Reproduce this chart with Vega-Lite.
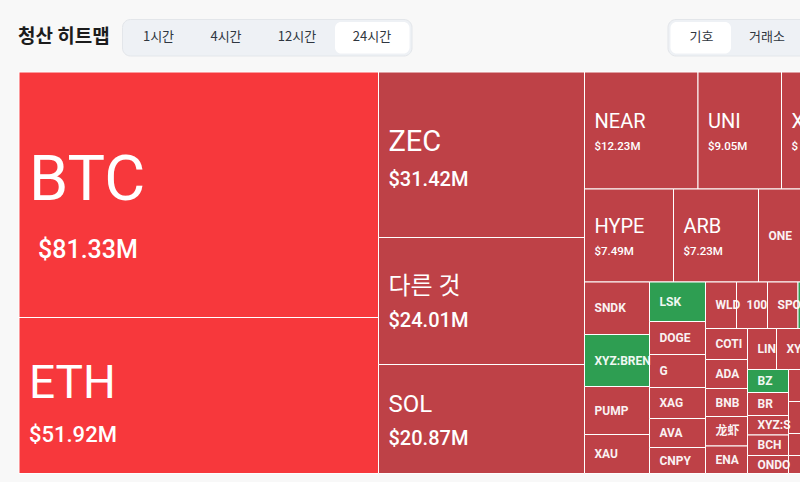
{
  "$schema": "https://vega.github.io/schema/vega-lite/v6.json",
  "width": 800,
  "height": 482,
  "autosize": "none",
  "padding": 0,
  "background": "#f8f8f8",
  "config": {"view": {"stroke": null}},
  "datasets": {
    "cells": [
      {"name": "BTC", "amount": 81.33, "liq": "$81.33M", "side": "major", "x0": 19, "x1": 378.5, "y0": 72, "y1": 317.5},
      {"name": "ETH", "amount": 51.92, "liq": "$51.92M", "side": "major", "x0": 19, "x1": 378.5, "y0": 317.5, "y1": 473.5},
      {"name": "ZEC", "amount": 31.42, "liq": "$31.42M", "side": "long", "x0": 378.5, "x1": 584.5, "y0": 72, "y1": 237.5},
      {"name": "다른 것", "amount": 24.01, "liq": "$24.01M", "side": "long", "x0": 378.5, "x1": 584.5, "y0": 237.5, "y1": 364.5},
      {"name": "SOL", "amount": 20.87, "liq": "$20.87M", "side": "long", "x0": 378.5, "x1": 584.5, "y0": 364.5, "y1": 473.5},
      {"name": "NEAR", "amount": 12.23, "liq": "$12.23M", "side": "long", "x0": 584.5, "x1": 698, "y0": 72, "y1": 189},
      {"name": "UNI", "amount": 9.05, "liq": "$9.05M", "side": "long", "x0": 698, "x1": 781.5, "y0": 72, "y1": 189},
      {"name": "X", "amount": 8.5, "liq": "$", "side": "long", "x0": 781.5, "x1": 860, "y0": 72, "y1": 189},
      {"name": "HYPE", "amount": 7.49, "liq": "$7.49M", "side": "long", "x0": 584.5, "x1": 673.5, "y0": 189, "y1": 282},
      {"name": "ARB", "amount": 7.23, "liq": "$7.23M", "side": "long", "x0": 673.5, "x1": 758.5, "y0": 189, "y1": 282},
      {"name": "ONE", "amount": 5.2, "liq": "", "side": "long", "x0": 758.5, "x1": 820, "y0": 189, "y1": 282},
      {"name": "SNDK", "amount": 3.14, "liq": "", "side": "long", "x0": 584.5, "x1": 649.5, "y0": 282, "y1": 334.5},
      {"name": "XYZ:BREN", "amount": 3.12, "liq": "", "side": "short", "x0": 584.5, "x1": 649.5, "y0": 334.5, "y1": 386.5},
      {"name": "PUMP", "amount": 2.88, "liq": "", "side": "long", "x0": 584.5, "x1": 649.5, "y0": 386.5, "y1": 434.5},
      {"name": "XAU", "amount": 2.34, "liq": "", "side": "long", "x0": 584.5, "x1": 649.5, "y0": 434.5, "y1": 473.5},
      {"name": "LSK", "amount": 2.04, "liq": "", "side": "short", "x0": 649.5, "x1": 705.5, "y0": 282, "y1": 321.5},
      {"name": "DOGE", "amount": 1.7, "liq": "", "side": "long", "x0": 649.5, "x1": 705.5, "y0": 321.5, "y1": 354.5},
      {"name": "G", "amount": 1.7, "liq": "", "side": "long", "x0": 649.5, "x1": 705.5, "y0": 354.5, "y1": 387.5},
      {"name": "XAG", "amount": 1.6, "liq": "", "side": "long", "x0": 649.5, "x1": 705.5, "y0": 387.5, "y1": 418.5},
      {"name": "AVA", "amount": 1.5, "liq": "", "side": "long", "x0": 649.5, "x1": 705.5, "y0": 418.5, "y1": 447.5},
      {"name": "CNPY", "amount": 1.34, "liq": "", "side": "long", "x0": 649.5, "x1": 705.5, "y0": 447.5, "y1": 473.5},
      {"name": "WLD", "amount": 1.33, "liq": "", "side": "long", "x0": 705.5, "x1": 736.5, "y0": 282, "y1": 328.5},
      {"name": "100", "amount": 1.33, "liq": "", "side": "long", "x0": 736.5, "x1": 767.5, "y0": 282, "y1": 328.5},
      {"name": "SPO", "amount": 1.31, "liq": "", "side": "long", "x0": 767.5, "x1": 798, "y0": 282, "y1": 328.5},
      {"name": "", "amount": 1.2, "liq": "", "side": "short", "x0": 798, "x1": 830, "y0": 282, "y1": 328.5},
      {"name": "COTI", "amount": 1.2, "liq": "", "side": "long", "x0": 705.5, "x1": 747.5, "y0": 328.5, "y1": 359.5},
      {"name": "ADA", "amount": 1.12, "liq": "", "side": "long", "x0": 705.5, "x1": 747.5, "y0": 359.5, "y1": 388.5},
      {"name": "BNB", "amount": 1.08, "liq": "", "side": "long", "x0": 705.5, "x1": 747.5, "y0": 388.5, "y1": 416.5},
      {"name": "龙虾", "amount": 1.14, "liq": "", "side": "long", "x0": 705.5, "x1": 747.5, "y0": 416.5, "y1": 446},
      {"name": "ENA", "amount": 1.06, "liq": "", "side": "long", "x0": 705.5, "x1": 747.5, "y0": 446, "y1": 473.5},
      {"name": "LIN", "amount": 1.1, "liq": "", "side": "long", "x0": 747.5, "x1": 776.5, "y0": 328.5, "y1": 369.5},
      {"name": "XY", "amount": 1.0, "liq": "", "side": "long", "x0": 776.5, "x1": 830, "y0": 328.5, "y1": 369.5},
      {"name": "BZ", "amount": 0.87, "liq": "", "side": "short", "x0": 747.5, "x1": 788.5, "y0": 369.5, "y1": 392.5},
      {"name": "BR", "amount": 0.87, "liq": "", "side": "long", "x0": 747.5, "x1": 788.5, "y0": 392.5, "y1": 415.5},
      {"name": "XYZ:S", "amount": 0.74, "liq": "", "side": "long", "x0": 747.5, "x1": 788.5, "y0": 415.5, "y1": 435},
      {"name": "BCH", "amount": 0.77, "liq": "", "side": "long", "x0": 747.5, "x1": 788.5, "y0": 435, "y1": 455.5},
      {"name": "ONDO", "amount": 0.68, "liq": "", "side": "long", "x0": 747.5, "x1": 788.5, "y0": 455.5, "y1": 473.5},
      {"name": "", "amount": 0.8, "liq": "", "side": "long", "x0": 788.5, "x1": 830, "y0": 369.5, "y1": 401.5},
      {"name": "", "amount": 0.8, "liq": "", "side": "long", "x0": 788.5, "x1": 830, "y0": 401.5, "y1": 433.5},
      {"name": "", "amount": 0.6, "liq": "", "side": "long", "x0": 788.5, "x1": 830, "y0": 433.5, "y1": 455.5},
      {"name": "", "amount": 0.5, "liq": "", "side": "long", "x0": 788.5, "x1": 830, "y0": 455.5, "y1": 473.5}
    ],
    "tracks": [
      {"kind": "track", "x0": 122.5, "x1": 412, "y0": 19.5, "y1": 56},
      {"kind": "track", "x0": 668, "x1": 840, "y0": 19.5, "y1": 56},
      {"kind": "selected", "x0": 335, "x1": 409.5, "y0": 22, "y1": 53.5},
      {"kind": "selected", "x0": 670.5, "x1": 731, "y0": 22, "y1": 53.5}
    ],
    "buttons": [
      {"label": "1시간", "x0": 158.5, "y0": 37},
      {"label": "4시간", "x0": 226, "y0": 37},
      {"label": "12시간", "x0": 297, "y0": 37},
      {"label": "24시간", "x0": 372, "y0": 37},
      {"label": "기호", "x0": 701.5, "y0": 37},
      {"label": "거래소", "x0": 767, "y0": 37}
    ],
    "heading": [
      {"label": "청산 히트맵", "x0": 18, "y0": 37}
    ]
  },
  "layer": [
    {
      "data": {"name": "tracks"},
      "transform": [{"filter": "datum.kind == 'track'"}],
      "mark": {"type": "rect", "fill": "#eef1f5", "stroke": "#e3e6ea", "strokeWidth": 1, "cornerRadius": 8},
      "encoding": {
        "x": {"field": "x0", "type": "quantitative", "scale": {"domain": [0, 800], "nice": false, "zero": false}, "axis": null},
        "x2": {"field": "x1"},
        "y": {"field": "y0", "type": "quantitative", "scale": {"domain": [0, 482], "nice": false, "zero": false, "reverse": true}, "axis": null},
        "y2": {"field": "y1"}
      }
    },
    {
      "data": {"name": "tracks"},
      "transform": [{"filter": "datum.kind == 'selected'"}],
      "mark": {"type": "rect", "fill": "#ffffff", "cornerRadius": 6},
      "encoding": {
        "x": {"field": "x0", "type": "quantitative", "scale": {"domain": [0, 800], "nice": false, "zero": false}, "axis": null},
        "x2": {"field": "x1"},
        "y": {"field": "y0", "type": "quantitative", "scale": {"domain": [0, 482], "nice": false, "zero": false, "reverse": true}, "axis": null},
        "y2": {"field": "y1"}
      }
    },
    {
      "data": {"name": "buttons"},
      "mark": {"type": "text", "align": "center", "baseline": "middle", "font": "Noto Sans CJK KR", "fontSize": 13, "fill": "#2f3640"},
      "encoding": {
        "x": {"field": "x0", "type": "quantitative", "scale": {"domain": [0, 800], "nice": false, "zero": false}, "axis": null},
        "y": {"field": "y0", "type": "quantitative", "scale": {"domain": [0, 482], "nice": false, "zero": false, "reverse": true}, "axis": null},
        "text": {"field": "label"}
      }
    },
    {
      "data": {"name": "heading"},
      "mark": {"type": "text", "align": "left", "baseline": "middle", "font": "Noto Sans CJK KR", "fontSize": 19, "fontWeight": "bold", "fill": "#1c1c1c"},
      "encoding": {
        "x": {"field": "x0", "type": "quantitative", "scale": {"domain": [0, 800], "nice": false, "zero": false}, "axis": null},
        "y": {"field": "y0", "type": "quantitative", "scale": {"domain": [0, 482], "nice": false, "zero": false, "reverse": true}, "axis": null},
        "text": {"field": "label"}
      }
    },
    {
      "data": {"name": "cells"},
      "mark": {"type": "rect", "stroke": "#ffffff", "strokeWidth": 1},
      "encoding": {
        "x": {"field": "x0", "type": "quantitative", "scale": {"domain": [0, 800], "nice": false, "zero": false}, "axis": null},
        "x2": {"field": "x1"},
        "y": {"field": "y0", "type": "quantitative", "scale": {"domain": [0, 482], "nice": false, "zero": false, "reverse": true}, "axis": null},
        "y2": {"field": "y1"},
        "color": {"field": "side", "type": "nominal", "scale": {"domain": ["major", "long", "short"], "range": ["#f7383c", "#be4147", "#2e9e52"]}, "legend": null}
      }
    },
    {
      "data": {"name": "cells"},
      "transform": [{"filter": "datum.liq != ''"}, {"calculate": "(datum.y0 + datum.y1) / 2", "as": "cy"}],
      "mark": {
        "type": "text", "align": "left", "baseline": "alphabetic", "font": "Roboto, Noto Sans CJK KR", "fill": "#ffffff",
        "dx": 10,
        "fontSize": {"expr": "datum.amount > 70 ? 63 : datum.amount > 45 ? 46 : datum.amount > 28 ? 29 : datum.amount > 15 ? 24 : 20"},
        "dy": {"expr": "datum.amount > 70 ? 5.5 : datum.amount > 45 ? 2.5 : datum.amount > 28 ? -4 : datum.amount > 15 ? -7 : -2.5"}
      },
      "encoding": {
        "x": {"field": "x0", "type": "quantitative", "scale": {"domain": [0, 800], "nice": false, "zero": false}, "axis": null},
        "y": {"field": "cy", "type": "quantitative", "scale": {"domain": [0, 482], "nice": false, "zero": false, "reverse": true}, "axis": null},
        "text": {"field": "name"}
      }
    },
    {
      "data": {"name": "cells"},
      "transform": [{"filter": "datum.liq != ''"}, {"calculate": "(datum.y0 + datum.y1) / 2", "as": "cy"}],
      "mark": {
        "type": "text", "align": "left", "baseline": "alphabetic", "font": "Roboto", "fill": "#ffffff", "fontWeight": 500,
        "dx": {"expr": "datum.amount > 70 ? 19 : 10"},
        "fontSize": {"expr": "datum.amount > 70 ? 25 : datum.amount > 45 ? 22 : datum.amount > 15 ? 20 : 11.5"},
        "dy": {"expr": "datum.amount > 70 ? 63.5 : datum.amount > 45 ? 46.5 : datum.amount > 28 ? 31.5 : datum.amount > 15 ? 26 : 19.5"}
      },
      "encoding": {
        "x": {"field": "x0", "type": "quantitative", "scale": {"domain": [0, 800], "nice": false, "zero": false}, "axis": null},
        "y": {"field": "cy", "type": "quantitative", "scale": {"domain": [0, 482], "nice": false, "zero": false, "reverse": true}, "axis": null},
        "text": {"field": "liq"}
      }
    },
    {
      "data": {"name": "cells"},
      "transform": [{"filter": "datum.liq == '' && datum.name != ''"}, {"calculate": "(datum.y0 + datum.y1) / 2", "as": "cy"}],
      "mark": {
        "type": "text", "align": "left", "baseline": "middle", "font": "Roboto, Noto Sans CJK SC", "fill": "#ffffff", "opacity": 0.93,
        "fontSize": 12, "fontWeight": "bold", "dx": 10, "ellipsis": "\u200b",
        "limit": {"expr": "datum.x1 - datum.x0 - 5"}
      },
      "encoding": {
        "x": {"field": "x0", "type": "quantitative", "scale": {"domain": [0, 800], "nice": false, "zero": false}, "axis": null},
        "y": {"field": "cy", "type": "quantitative", "scale": {"domain": [0, 482], "nice": false, "zero": false, "reverse": true}, "axis": null},
        "text": {"field": "name"}
      }
    }
  ]
}
